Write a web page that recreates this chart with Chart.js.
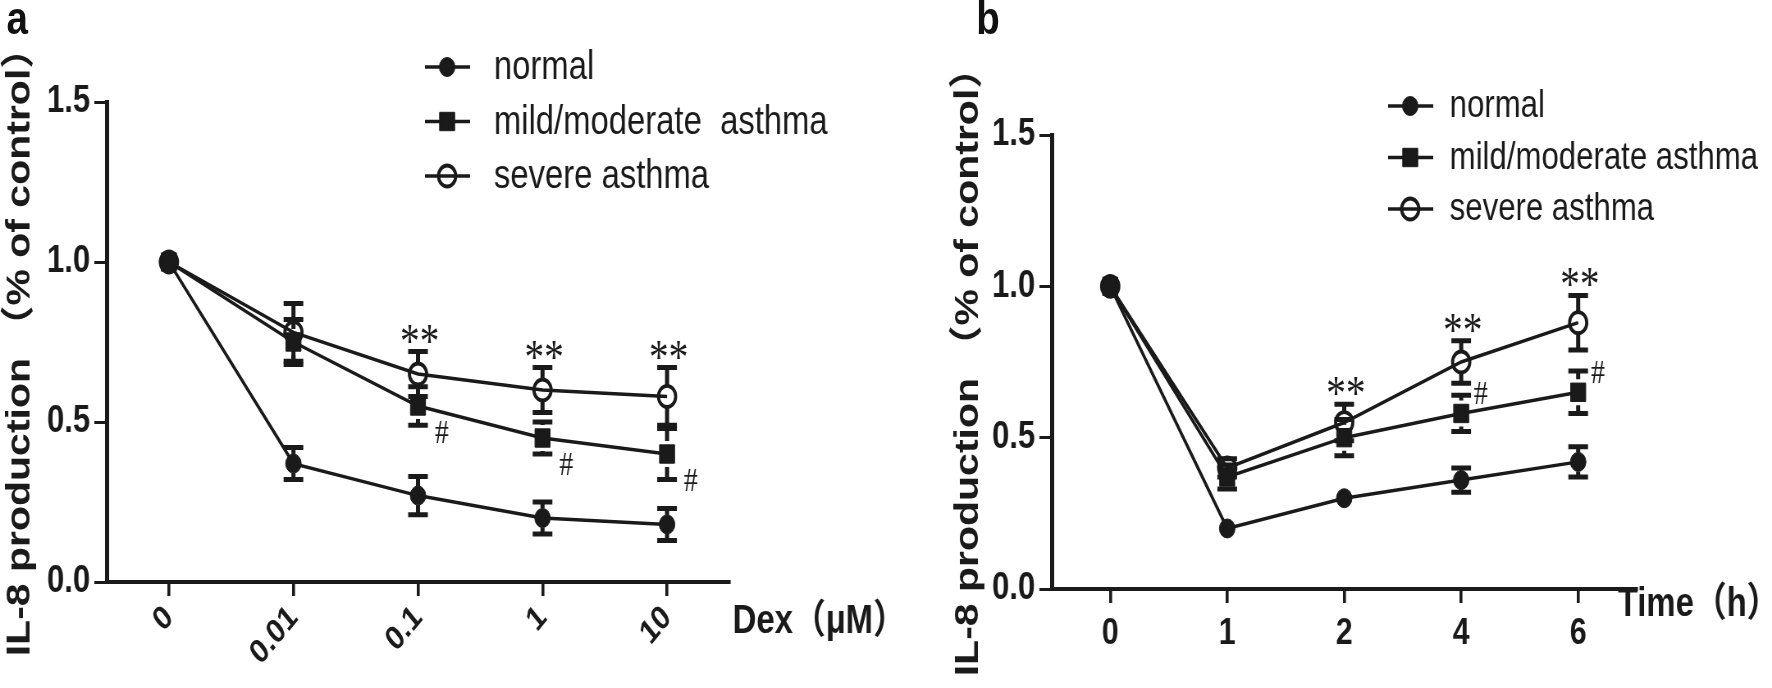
<!DOCTYPE html>
<html>
<head>
<meta charset="utf-8">
<script src="https://cdn.jsdelivr.net/npm/chart.js@4.4.1/dist/chart.umd.min.js"></script>
<style>
  body { margin: 0; background: #fff; width: 1772px; height: 688px; overflow: hidden; }
  /* the original figure is squeezed horizontally; each panel is drawn wide and then narrowed */
  .panel { position: absolute; top: 0; width: 1080px; height: 688px; transform: scaleX(0.8204); transform-origin: 0 0; }
  .panel canvas { position: absolute; left: 0; top: 0; }
  .tag { position: absolute; top: -10px; font: bold 47px 'Liberation Sans', Arial, sans-serif; color: #111; }
</style>
</head>
<body>
<div class="panel" style="left:0">
  <canvas id="chartA" width="1080" height="688"></canvas>
  <div class="tag" style="left:8px">a</div>
</div>
<div class="panel" style="left:886px">
  <canvas id="chartB" width="1080" height="688"></canvas>
  <div class="tag" style="left:110px">b</div>
</div>
<script>
// panel a : dexamethasone dose
var dexLabels = ['0', '0.01', '0.1', '1', '10'];
var dexNormal = [1.0, 0.37, 0.27, 0.20, 0.18];
var dexNormalErr = [0, 0.05, 0.06, 0.05, 0.05];
var dexMild = [1.0, 0.75, 0.55, 0.45, 0.40];
var dexMildErr = [0, 0.07, 0.06, 0.05, 0.08];
var dexSevere = [1.0, 0.78, 0.65, 0.60, 0.58];
var dexSevereErr = [0, 0.09, 0.07, 0.07, 0.09];
var dexStars = ['', '', '**', '**', '**'];
var dexHash = ['', '', '#', '#', '#'];

// panel b : time course
var timeLabels = ['0', '1', '2', '4', '6'];
var timeNormal = [1.0, 0.20, 0.30, 0.36, 0.42];
var timeNormalErr = [0, 0, 0, 0.04, 0.05];
var timeMild = [1.0, 0.37, 0.50, 0.58, 0.65];
var timeMildErr = [0, 0.04, 0.06, 0.06, 0.07];
var timeSevere = [1.0, 0.40, 0.55, 0.75, 0.88];
var timeSevereErr = [0, 0.03, 0.06, 0.07, 0.09];
var timeStars = ['', '', '**', '**', '**'];
var timeHash = ['', '', '', '#', '#'];

var yTicks = [0, 0.5, 1.0, 1.5];

var INK = '#1a1a1a';
var SANS = "'Liberation Sans', Arial, 'Noto Sans CJK SC', sans-serif";
var SERIF = "'Liberation Serif', 'DejaVu Serif', serif";

function centeredText(ctx, text, x, y) {
    var m = ctx.measureText(text);
    ctx.textAlign = 'center';
    ctx.textBaseline = 'alphabetic';
    ctx.fillText(text, x, y + (m.actualBoundingBoxAscent - m.actualBoundingBoxDescent) / 2);
}

// error bars, drawn before the lines so the markers sit on top
var errorBars = {
    id: 'errorBars',
    beforeDatasetsDraw: function (chart) {
        var ctx = chart.ctx;
        var yScale = chart.scales.y;
        ctx.save();
        ctx.strokeStyle = INK;
        chart.data.datasets.forEach(function (ds, i) {
            var meta = chart.getDatasetMeta(i);
            meta.data.forEach(function (pt, j) {
                var e = ds.errors[j];
                if (!e) return;
                var top = yScale.getPixelForValue(ds.data[j] + e);
                var bot = yScale.getPixelForValue(ds.data[j] - e);
                var r = ds.pointRadius;
                ctx.lineWidth = 5;
                ctx.beginPath();
                if (pt.y - r > top) { ctx.moveTo(pt.x, top); ctx.lineTo(pt.x, pt.y - r); }
                if (pt.y + r < bot) { ctx.moveTo(pt.x, pt.y + r); ctx.lineTo(pt.x, bot); }
                ctx.stroke();
                ctx.beginPath();
                ctx.moveTo(pt.x - 12, top); ctx.lineTo(pt.x + 12, top);
                ctx.moveTo(pt.x - 12, bot); ctx.lineTo(pt.x + 12, bot);
                ctx.stroke();
            });
        });
        ctx.restore();
    }
};

// significance marks, legend and x axis name
var extras = {
    id: 'extras',
    afterDraw: function (chart, args, opts) {
        var ctx = chart.ctx;
        var area = chart.chartArea;
        var yScale = chart.scales.y;
        var sets = chart.data.datasets;
        ctx.save();
        ctx.fillStyle = INK;

        // ** over severe asthma, # beside mild/moderate asthma
        var sev = chart.getDatasetMeta(2).data;
        var mild = chart.getDatasetMeta(1).data;
        ctx.font = '48px ' + SERIF;
        opts.stars.forEach(function (s, j) {
            if (!s) return;
            var y = yScale.getPixelForValue(sets[2].data[j] + sets[2].errors[j]);
            centeredText(ctx, s, sev[j].x + 2, y - 18);
        });
        ctx.font = '34px ' + SERIF;
        opts.hashes.forEach(function (s, j) {
            if (!s) return;
            centeredText(ctx, s, mild[j].x + opts.hashDx, mild[j].y + opts.hashDy);
        });

        // legend
        ctx.font = opts.legendSize + 'px ' + SANS;
        sets.forEach(function (ds, i) {
            var y = opts.legendY + i * opts.legendGap;
            var x = opts.legendX;
            ctx.strokeStyle = INK;
            ctx.lineWidth = 3.5;
            ctx.beginPath();
            ctx.moveTo(x, y); ctx.lineTo(x + 55, y);
            ctx.stroke();
            ctx.fillStyle = ds.pointBackgroundColor;
            ctx.strokeStyle = INK;
            ctx.lineWidth = ds.pointBorderWidth;
            Chart.helpers.drawPoint(ctx, {
                pointStyle: ds.pointStyle,
                radius: ds.pointRadius,
                rotation: 0,
                borderWidth: ds.pointBorderWidth
            }, x + 27, y);
            ctx.fillStyle = INK;
            ctx.textAlign = 'left';
            ctx.textBaseline = 'middle';
            ctx.fillText(opts.legendNames[i], x + opts.legendText, y + 1);
        });

        // x axis name at the right end of the axis
        ctx.font = 'bold 40px ' + SANS;
        ctx.textAlign = 'left';
        ctx.textBaseline = 'middle';
        ctx.fillText(opts.xName, area.right + opts.xNameDx, area.bottom + opts.xNameDy);
        ctx.restore();
    }
};

function makeSets(normal, normalErr, mild, mildErr, severe, severeErr) {
    var common = { borderColor: INK, borderWidth: 3.5, tension: 0, pointBorderColor: INK };
    return [
        Object.assign({ label: 'normal', data: normal, errors: normalErr,
            pointStyle: 'circle', pointRadius: 9.5, pointBackgroundColor: INK, pointBorderWidth: 1 }, common),
        Object.assign({ label: 'mild/moderate asthma', data: mild, errors: mildErr,
            pointStyle: 'rect', pointRadius: 13, pointBackgroundColor: INK, pointBorderWidth: 1 }, common),
        Object.assign({ label: 'severe asthma', data: severe, errors: severeErr,
            pointStyle: 'circle', pointRadius: 10.5, pointBackgroundColor: 'rgba(255,255,255,0)', pointBorderWidth: 3.8 }, common)
    ];
}

function makeChart(id, labels, datasets, cfg) {
    var ctx = document.getElementById(id).getContext('2d');
    return new Chart(ctx, {
        type: 'line',
        data: { labels: labels, datasets: datasets },
        plugins: [errorBars, extras],
        options: {
            responsive: false,
            animation: false,
            events: [],
            devicePixelRatio: 1,
            layout: { padding: cfg.padding },
            plugins: {
                legend: { display: false },
                tooltip: { enabled: false },
                extras: cfg.extras
            },
            scales: {
                x: {
                    offset: true,
                    afterFit: function (s) { s.height = 80; },
                    grid: { offset: false, drawOnChartArea: false, drawTicks: true, tickLength: 14, lineWidth: 3.6, color: INK },
                    border: { display: true, width: 4, color: INK },
                    ticks: {
                        autoSkip: false,
                        minRotation: cfg.rotation,
                        maxRotation: cfg.rotation,
                        padding: cfg.xTickPad,
                        color: INK,
                        font: { family: SANS, size: cfg.xTickSize, weight: 'bold' }
                    }
                },
                y: {
                    min: 0,
                    max: 1.5,
                    afterFit: function (s) { s.width = cfg.yWidth; },
                    afterBuildTicks: function (s) { s.ticks = yTicks.map(function (v) { return { value: v }; }); },
                    grid: { drawOnChartArea: false, drawTicks: true, tickLength: 15, lineWidth: 3, color: INK },
                    border: { display: true, width: 5, color: INK },
                    ticks: {
                        padding: 5,
                        color: INK,
                        font: { family: SANS, size: 38, weight: 'bold' },
                        callback: function (v) { return Number(v).toFixed(1); }
                    },
                    title: {
                        display: true,
                        text: 'IL-8 production （% of control）',
                        color: INK,
                        font: { family: SANS, size: 41, weight: 'bold' },
                        padding: { top: cfg.yTitlePad, bottom: 0 }
                    }
                }
            }
        }
    });
}

makeChart('chartA', dexLabels,
    makeSets(dexNormal, dexNormalErr, dexMild, dexMildErr, dexSevere, dexSevereErr), {
    padding: { left: 0, top: 102, right: 191, bottom: 26 },
    yWidth: 130,
    yTitlePad: 0,
    rotation: 45,
    xTickPad: 2,
    xTickSize: 34,
    extras: {
        stars: dexStars, hashes: dexHash, hashDx: 29, hashDy: 26,
        legendX: 518, legendY: 67, legendGap: 54.5, legendSize: 40, legendText: 84,
        legendNames: ['normal', 'mild/moderate  asthma', 'severe asthma'],
        xName: 'Dex（μM）', xNameDx: 4, xNameDy: 40
    }
});

makeChart('chartB', timeLabels,
    makeSets(timeNormal, timeNormalErr, timeMild, timeMildErr, timeSevere, timeSevereErr), {
    padding: { left: 0, top: 135, right: 165, bottom: 19 },
    yWidth: 202,
    yTitlePad: 76,
    rotation: 0,
    xTickPad: 9,
    xTickSize: 37,
    extras: {
        stars: timeStars, hashes: timeHash, hashDx: 24, hashDy: -20,
        legendX: 612, legendY: 106, legendGap: 51.5, legendSize: 38, legendText: 75,
        legendNames: ['normal', 'mild/moderate asthma', 'severe asthma'],
        xName: 'Time（h）', xNameDx: -23, xNameDy: 16
    }
});
</script>
</body>
</html>
